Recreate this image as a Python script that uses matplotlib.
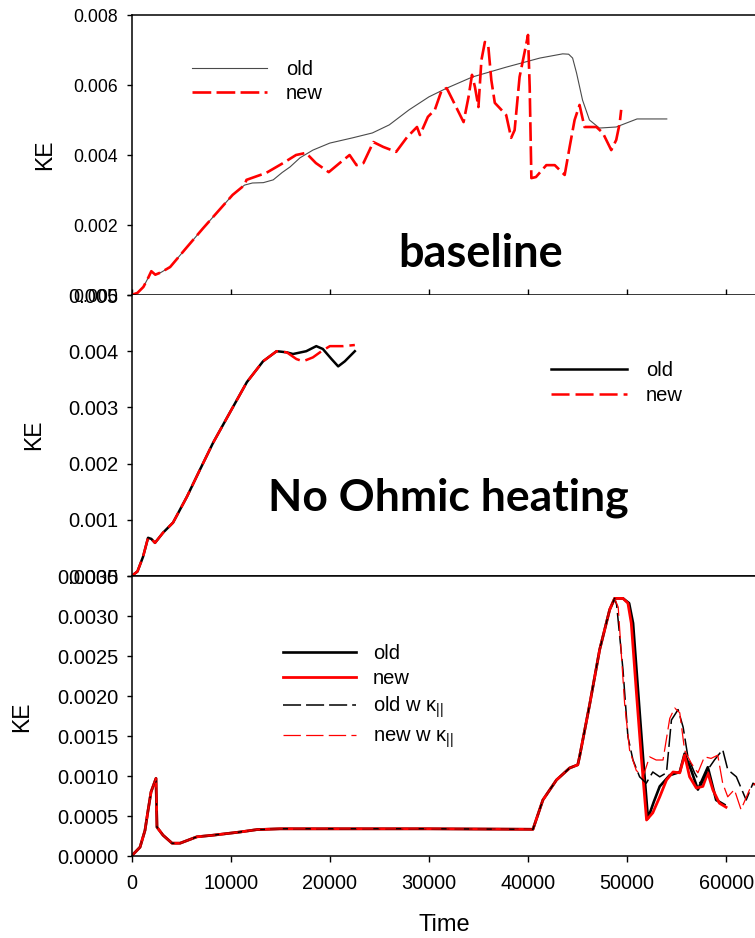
import matplotlib
matplotlib.use("Agg")
import matplotlib.pyplot as plt
from matplotlib.ticker import FixedLocator, FormatStrFormatter

plt.rcParams["font.family"] = ["Liberation Sans", "DejaVu Sans"]
plt.rcParams["mathtext.fontset"] = "custom"
plt.rcParams["mathtext.rm"] = "Liberation Sans"
plt.rcParams["mathtext.it"] = "Liberation Sans"
plt.rcParams["lines.scale_dashes"] = False

# ---------------- baseline run ----------------
base_ramp_t = [0, 600, 1200, 1700, 2000, 2400, 3000, 3900, 5600, 7200, 10200, 11400]
base_ramp_ke = [0, 0.00006, 0.00023, 0.0005, 0.00068, 0.00058, 0.00065, 0.0008,
                0.00137, 0.0019, 0.00286, 0.00314]

base_old_t = [12200, 13300, 14300, 15200, 16000, 17000, 18300, 20000, 22300, 24300,
              26000, 28000, 30000, 31800, 34400, 37800, 41200, 43500, 44100, 44500,
              44900, 45500, 46200, 47200, 48900, 49900, 51000, 52000, 54000]
base_old_ke = [0.0032, 0.00321, 0.00329, 0.0035, 0.00366, 0.00392, 0.00414, 0.00434,
               0.00449, 0.00463, 0.00486, 0.00529, 0.00566, 0.00591, 0.00623, 0.00651,
               0.00677, 0.00689, 0.00688, 0.00677, 0.00634, 0.00557, 0.005, 0.00477,
               0.0048, 0.00491, 0.00503, 0.00503, 0.00503]

base_new_t = [11600, 13600, 15300, 16600, 17600, 18600, 19900, 21000, 22000, 22700,
              23400, 24400, 25400, 26700, 27800, 28800, 29100, 29900, 30600, 31300,
              31800, 32400, 33500, 34000, 34350, 34650, 35000, 35300, 35650, 36000,
              36300, 36650, 37150, 37800, 38300, 38650, 39150, 39800, 40000, 40170,
              40340, 40800, 41850, 42700, 43700, 44200, 44700, 45200, 45700, 46400,
              46900, 47550, 48400, 48900, 49250, 49400]
base_new_ke = [0.00329, 0.00349, 0.00377, 0.004, 0.00406, 0.00377, 0.00351, 0.00377,
               0.004, 0.00371, 0.00377, 0.00437, 0.00423, 0.00409, 0.00451, 0.0048,
               0.00457, 0.00509, 0.00529, 0.00586, 0.00591, 0.00557, 0.00494, 0.00566,
               0.00629, 0.00594, 0.00537, 0.00671, 0.00723, 0.00709, 0.00614, 0.00549,
               0.00534, 0.00514, 0.00449, 0.00471, 0.00623, 0.00714, 0.00743, 0.00594,
               0.00334, 0.00337, 0.00371, 0.00371, 0.00343, 0.00423, 0.005, 0.00543,
               0.0048, 0.0048, 0.0048, 0.00463, 0.00414, 0.00443, 0.00491, 0.00529]

# ---------------- no Ohmic heating ----------------
noohm_ramp_t = [0, 600, 1160, 1670, 2000, 2370, 3180, 4190, 5590, 6900, 8230, 9930,
                11640, 13270, 14640, 15660]
noohm_ramp_ke = [0, 0.00008, 0.00034, 0.00068, 0.00066, 0.00059, 0.00077, 0.00095,
                 0.00141, 0.00189, 0.00237, 0.00291, 0.00345, 0.00382, 0.004, 0.00398]

noohm_old_t = [16290, 17630, 18640, 19300, 20180, 20850, 21520, 22530]
noohm_old_ke = [0.00395, 0.004, 0.00409, 0.00404, 0.00386, 0.00373, 0.00382, 0.004]

noohm_new_t = [16640, 17300, 18300, 19170, 20010, 21350, 22530]
noohm_new_ke = [0.00386, 0.00382, 0.00389, 0.004, 0.00409, 0.00409, 0.00411]

# ---------------- with / without parallel conduction ----------------
kpar_ramp_t = [0, 860, 1360, 1670, 1970, 2470, 2570, 3180, 4090, 4900, 6600, 8230,
               10950, 12650, 14970, 20000, 30000, 40500, 41500, 42870, 44200, 45020,
               45200, 46230, 47230, 48240, 48740]
kpar_ramp_ke = [0, 0.00011, 0.00032, 0.00057, 0.0008, 0.00097, 0.00036, 0.00026,
                0.00016, 0.00016, 0.00024, 0.00026, 0.0003, 0.00033, 0.00034, 0.00034,
                0.00034, 0.000334, 0.0007, 0.00095, 0.0011, 0.00114, 0.00124, 0.0019,
                0.00258, 0.00308, 0.00322]

kpar_old_t = [49580, 50200, 50600, 51100, 51600, 52100, 52700, 53290, 54300, 55310,
              55800, 56470, 57140, 58140, 58980, 59810]
kpar_old_ke = [0.00322, 0.00316, 0.00291, 0.00207, 0.00124, 0.00047, 0.00068, 0.00087,
               0.00101, 0.00105, 0.00128, 0.00107, 0.00083, 0.00111, 0.0007, 0.00064]

kpar_new_t = [49580, 50080, 50420, 50920, 51430, 51960, 52590, 53290, 53970, 54630,
              55310, 55800, 56300, 56980, 57640, 58140, 58640, 59310, 59980]
kpar_new_ke = [0.00322, 0.00316, 0.00291, 0.00207, 0.00124, 0.00045, 0.00054, 0.00074,
               0.00095, 0.00105, 0.00104, 0.00126, 0.00099, 0.00085, 0.00087, 0.00104,
               0.00083, 0.00066, 0.00061]

kpar_oldk_t = [48940, 49580, 50080, 50590, 51260, 51930, 52590, 53290, 53970, 54470,
               55140, 55650, 56130, 56800, 57470, 58140, 58810, 59640, 60150, 61020,
               62010, 62700, 63000]
kpar_oldk_ke = [0.00314, 0.00233, 0.00149, 0.0012, 0.00099, 0.00091, 0.00105, 0.00099,
                0.00104, 0.0017, 0.00183, 0.00161, 0.00124, 0.00104, 0.00089, 0.00108,
                0.0012, 0.00133, 0.00108, 0.00099, 0.0007, 0.00091, 0.00088]

kpar_newk_t = [49100, 49750, 50250, 50920, 51600, 52260, 52930, 53620, 54300, 54800,
               55310, 55800, 56470, 57140, 57800, 58470, 59140, 59640, 60150, 60820,
               61490, 62350, 62900]
kpar_newk_ke = [0.00311, 0.0019, 0.00132, 0.00107, 0.00099, 0.00124, 0.0012, 0.0012,
                0.00172, 0.00185, 0.00179, 0.00132, 0.00116, 0.00104, 0.00124, 0.00122,
                0.00126, 0.00091, 0.00074, 0.00083, 0.00058, 0.00083, 0.00091]

top_yticks = [0.000, 0.002, 0.004, 0.006, 0.008]
mid_yticks = [0.000, 0.001, 0.002, 0.003, 0.004, 0.005]
bot_yticks = [0.0000, 0.0005, 0.0010, 0.0015, 0.0020, 0.0025, 0.0030, 0.0035]
xticks = [0, 10000, 20000, 30000, 40000, 50000, 60000]

RED = "#ff0000"
W, H = 755, 938
fig = plt.figure(figsize=(W / 100, H / 100), dpi=100)


def px_rect(top, bottom, left=131.5, right=755):
    return [left / W, 1 - bottom / H, (right - left) / W, (bottom - top) / H]


ax1 = fig.add_axes(px_rect(15, 295))
ax2 = fig.add_axes(px_rect(295, 576))
ax3 = fig.add_axes(px_rect(576, 856))

XMAX = 62900
for ax in (ax1, ax2, ax3):
    ax.set_xlim(0, XMAX)
    ax.spines["right"].set_visible(False)
    for s in ax.spines.values():
        s.set_linewidth(1.1)
    ax.xaxis.set_major_locator(FixedLocator(xticks))
    ax.tick_params(axis="y", direction="out", length=3.6, width=1.0, pad=6)

ax2.spines["top"].set_visible(False)

ax1.tick_params(axis="x", direction="in", length=4, width=1.0, labelbottom=False)
ax2.tick_params(axis="x", length=0, labelbottom=False)
ax3.tick_params(axis="x", direction="out", length=4, width=1.0, labelsize=14.3, pad=9)

ax1.set_ylim(0, 0.008)
ax1.yaxis.set_major_locator(FixedLocator(top_yticks))
ax1.yaxis.set_major_formatter(FormatStrFormatter("%.3f"))
ax1.tick_params(axis="y", labelsize=12.7)

ax2.set_ylim(0, 0.005)
ax2.yaxis.set_major_locator(FixedLocator(mid_yticks))
ax2.yaxis.set_major_formatter(FormatStrFormatter("%.3f"))
ax2.tick_params(axis="y", labelsize=14.5)

ax3.set_ylim(0, 0.0035)
ax3.yaxis.set_major_locator(FixedLocator(bot_yticks))
ax3.yaxis.set_major_formatter(FormatStrFormatter("%.4f"))
ax3.tick_params(axis="y", labelsize=14.5)

# baseline
l_old1, = ax1.plot(base_ramp_t + base_old_t, base_ramp_ke + base_old_ke,
                   color="#4a4a4a", lw=0.8)
l_new1, = ax1.plot(base_ramp_t + base_new_t, base_ramp_ke + base_new_ke,
                   color=RED, lw=1.9, dashes=(13.5, 3.8))

# no Ohmic heating
l_old2, = ax2.plot(noohm_ramp_t + noohm_old_t, noohm_ramp_ke + noohm_old_ke,
                   color="black", lw=1.8)
l_new2, = ax2.plot(noohm_ramp_t + noohm_new_t, noohm_ramp_ke + noohm_new_ke,
                   color=RED, lw=1.8, dashes=(13, 4.3))

# parallel conduction comparison
l_old3, = ax3.plot(kpar_ramp_t + kpar_old_t, kpar_ramp_ke + kpar_old_ke,
                   color="black", lw=1.9)
l_new3, = ax3.plot(kpar_ramp_t + kpar_new_t, kpar_ramp_ke + kpar_new_ke,
                   color=RED, lw=2.0)
l_oldk, = ax3.plot(kpar_ramp_t + kpar_oldk_t, kpar_ramp_ke + kpar_oldk_ke,
                   color="black", lw=1.1, dashes=(13, 3.6))
l_newk, = ax3.plot(kpar_ramp_t + kpar_newk_t, kpar_ramp_ke + kpar_newk_ke,
                   color=RED, lw=0.9, dashes=(12.5, 3.8))


def legend_at(ax, handles, labels, x_px, y_px, hlen_px, gap_px, spacing):
    fs = 14.5
    em = fs * 100 / 72
    return ax.legend(handles, labels, loc="upper left",
                     bbox_to_anchor=(x_px / W, 1 - y_px / H),
                     bbox_transform=fig.transFigure, frameon=False,
                     borderpad=0, borderaxespad=0, fontsize=fs,
                     handlelength=hlen_px / em, handletextpad=gap_px / em,
                     labelspacing=spacing)


legend_at(ax1, [l_old1, l_new1], ["old", "new"], 192, 60, 75, 19, 0.25)
legend_at(ax2, [l_old2, l_new2], ["old", "new"], 551, 361, 76, 19, 0.3)
legend_at(ax3, [l_old3, l_new3, l_oldk, l_newk],
          ["old", "new", "old w κ$_{||}$", "new w κ$_{||}$"], 283, 644, 73, 17, 0.32)

# panel annotations
ax1.text(481 / W, 1 - 267 / H, "baseline", transform=fig.transFigure,
         ha="center", va="baseline", fontsize=32.5, fontweight="bold", family="Lato")
ax2.text(448.5 / W, 1 - 510 / H, "No Ohmic heating", transform=fig.transFigure,
         ha="center", va="baseline", fontsize=32, fontweight="bold", family="Lato")

# axis labels
for x_px, y_px in ((45, 155), (34, 435), (22, 717)):
    fig.text(x_px / W, 1 - y_px / H, "KE", rotation=90, ha="center", va="center",
             fontsize=16.5)
ax3.set_xlabel("Time", fontsize=17)
ax3.xaxis.set_label_coords(0.501, (856 - 914) / 280)
ax3.xaxis.label.set_va("top")

fig.savefig("out.png", dpi=100)
